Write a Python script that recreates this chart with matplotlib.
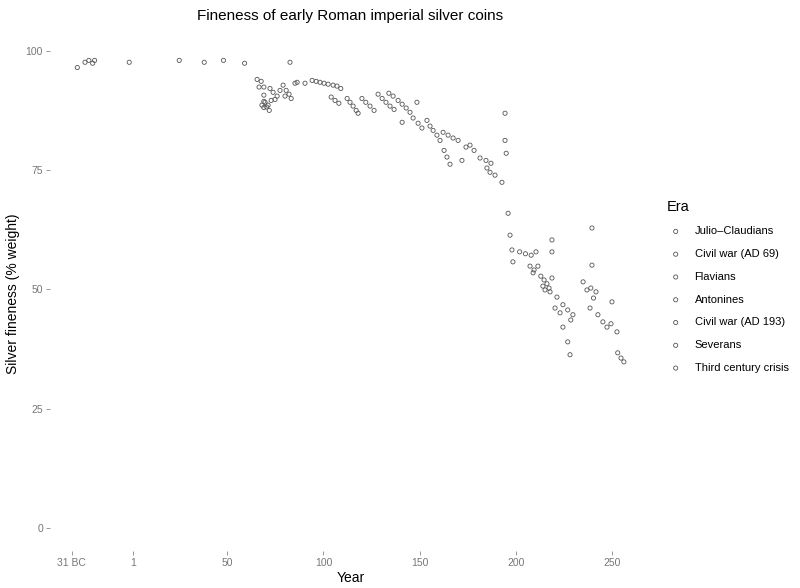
import matplotlib
matplotlib.use("Agg")
import matplotlib.pyplot as plt

plt.rcParams['font.family'] = ['Liberation Sans', 'DejaVu Sans']

# values (year, silver fineness in % weight)
julio_year = [-28, -24, -22, -20, -19, -1, 25, 38, 48, 59, 65.5, 66.5, 67.6, 68]
julio_fin = [96.6, 97.7, 98.1, 97.5, 98.1, 97.7, 98.1, 97.7, 98.1, 97.5, 94.1, 92.5, 93.7, 88.7]

civil69_year = [69, 69, 69, 69]
civil69_fin = [92.5, 90.8, 88.2, 89.5]

flavian_year = [72.2, 73.8, 75.9, 74.8, 72.8, 69.6, 71.2, 79, 80.6, 82.1, 83.2, 80, 77.4,
                82.6, 86.3, 90.4, 85.2, 70.5, 71.8, 94.1]
flavian_fin = [92.2, 91.4, 90.6, 89.9, 89.7, 89.3, 88.7, 92.9, 91.8, 91.0, 90.1, 90.6, 91.8,
               97.7, 93.5, 93.3, 93.3, 88.3, 87.6, 93.9]

antonine_year = [96.2, 98.2, 100.3, 102.4, 105, 107, 109, 104, 106, 108,
                 112.3, 113.8, 115.4, 117, 118, 120, 122, 124.2, 126.3,
                 128.4, 130.5, 132.5, 134.6, 136.7, 134, 136.2, 138.8, 140.9, 143, 145,
                 148.6, 140.9, 146.6, 149.2, 151.2, 153.8, 155.4, 157, 159, 160.6,
                 162.2, 164.8, 167.4, 170, 162.7, 164.2, 165.8, 172, 174.1, 176.2, 178.3,
                 181.4, 184.5, 187.1, 185, 186.6, 189.2]
antonine_fin = [93.7, 93.5, 93.3, 93.1, 92.9, 92.7, 92.2, 90.4, 89.7, 89.1,
                90.1, 89.3, 88.5, 87.6, 87.0, 90.1, 89.3, 88.5, 87.6,
                91.0, 90.1, 89.3, 88.5, 87.8, 91.2, 90.6, 89.7, 88.9, 88.1, 87.2,
                89.3, 85.1, 86.0, 84.9, 83.9, 85.5, 84.3, 83.4, 82.4, 81.3,
                83.0, 82.4, 81.8, 81.3, 79.2, 77.8, 76.3, 77.1, 79.9, 80.3, 79.2,
                77.6, 77.1, 76.5, 75.5, 74.6, 74.0]

civil193_year = [192.8, 194.4, 194.4, 195]
civil193_fin = [72.5, 87.0, 81.3, 78.6]

severan_year = [196, 197, 198, 198.5, 202, 205, 208, 210.5, 207.4, 209.5, 211.5, 209,
                213, 214.7, 216.2, 217.3, 218.8, 215.2, 217.8, 214.1, 218.8, 218.8,
                221.4, 220.4, 223, 224.5, 227, 229.7, 228.6, 224.5, 227, 228.2]
severan_fin = [66.0, 61.4, 58.3, 55.8, 57.9, 57.5, 57.2, 57.9, 54.9, 54.1, 54.9, 53.5,
               52.8, 52.0, 51.2, 50.3, 52.4, 49.9, 49.5, 50.7, 60.4, 57.9,
               48.4, 46.1, 45.1, 46.8, 45.7, 44.7, 43.6, 42.1, 39.0, 36.3]

crisis_year = [235, 237, 239, 241.7, 240.4, 239.6, 239.6, 238.6, 242.7, 245.3, 247.4,
               249.5, 250, 252.6, 253, 254.7, 256.2]
crisis_fin = [51.6, 49.9, 50.3, 49.5, 48.2, 62.9, 55.1, 46.1, 44.7, 43.2, 42.1,
              42.8, 47.4, 41.1, 36.7, 35.6, 34.8]

eras = ["Julio\u2013Claudians", "Civil war (AD 69)", "Flavians", "Antonines",
        "Civil war (AD 193)", "Severans", "Third century crisis"]
years = [julio_year, civil69_year, flavian_year, antonine_year, civil193_year, severan_year, crisis_year]
fins = [julio_fin, civil69_fin, flavian_fin, antonine_fin, civil193_fin, severan_fin, crisis_fin]

x_ticks = [-31, 1, 50, 100, 150, 200, 250]
x_labels = ["31 BC", "1", "50", "100", "150", "200", "250"]
y_ticks = [0, 25, 50, 75, 100]

fig = plt.figure(figsize=(8, 5.88), dpi=100)
ax = fig.add_axes([0.0625, 0.063, 0.751, 0.874])

for era, xs, ys in zip(eras, years, fins):
    ax.scatter(xs, ys, s=9, facecolors='none', edgecolors='#555555', linewidths=0.6, label=era)

ax.set_xlim(-42.2, 270.2)
ax.set_ylim(-4.9, 103)
ax.set_xticks(x_ticks)
ax.set_xticklabels(x_labels)
ax.set_yticks(y_ticks)
for s in ax.spines.values():
    s.set_visible(False)
ax.tick_params(length=3, width=0.6, color='#888888', labelcolor='#777777', labelsize=7.5, pad=2)

ax.set_xlabel("Year", fontsize=10, labelpad=2)
ax.set_ylabel("Silver fineness (% weight)", fontsize=10, labelpad=4)
ax.set_title("Fineness of early Roman imperial silver coins", fontsize=11, pad=12)

leg = ax.legend(title="Era", loc='center left', bbox_to_anchor=(1.01, 0.515), frameon=False,
                fontsize=8, title_fontsize=10.5, labelspacing=1.15, handletextpad=0.9,
                handlelength=1.6, markerscale=1.0)
leg._legend_box.align = "left"

fig.savefig("out.png", dpi=100)
